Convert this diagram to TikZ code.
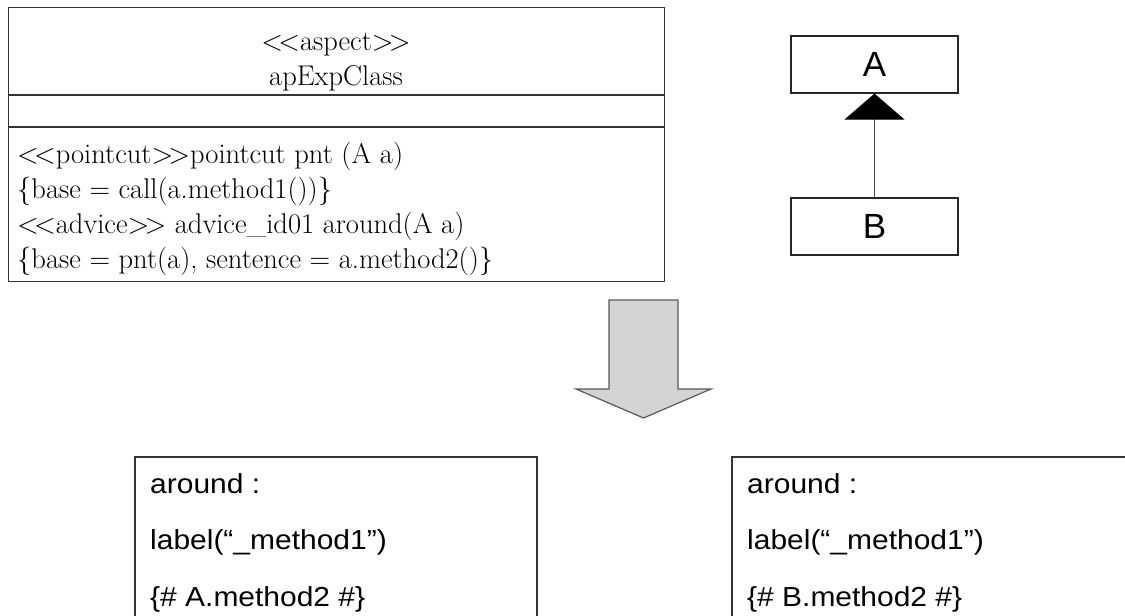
\RequirePackage{fix-cm}
\documentclass[tikz,border=0pt]{standalone}
\usepackage{fontspec}
\newfontfamily\arialish{Liberation Sans}
\newfontfamily\arialwide{Liberation Sans}[FakeStretch=1.09]
\usetikzlibrary{arrows.meta}
\newcommand\stlt{$<\!<$}
\newcommand\stgt{$>\!>$}
\begin{document}
\begin{tikzpicture}[x=1pt,y=-1pt,
  frame/.style={draw=black!80, line width=1.2pt},
  serifline/.style={font=\fontsize{28.5}{35}\selectfont, anchor=base west, inner sep=0pt},
  seriftitle/.style={font=\fontsize{28.5}{35}\selectfont, anchor=base, inner sep=0pt},
  sansline/.style={font=\arialwide\fontsize{27.5}{33}\selectfont, anchor=base west, inner sep=0pt},
  classbox/.style={draw=black!85, line width=1.2pt, minimum width=167pt, minimum height=57pt,
    font=\arialish\fontsize{35}{40}\selectfont, inner sep=0pt},
  inherit/.style={draw=black!70, line width=1.2pt,
    -{Triangle[width=60pt,length=26pt,color=black,fill=black]}},
  bigarrow/.style={fill=black!17, draw=black!65, line width=1.2pt, line join=miter}]
\useasboundingbox (0,0) rectangle (1125,616);

% aspect class with its three compartments
\node[frame, anchor=north west, minimum width=656pt, minimum height=274pt, inner sep=0pt] (cls) at (8,7) {};
\coordinate (d1) at (8,95);
\coordinate (d2) at (8,127);
\draw[frame] (d1) -- (d1 -| cls.east);
\draw[frame] (d2) -- (d2 -| cls.east);
\node[seriftitle] (stereo) at (336,50) {\stlt aspect\stgt};
\node[seriftitle] (cname) at (336,85) {apExpClass};
\node[serifline] (pc) at (17,163) {\stlt pointcut\stgt pointcut pnt (A a)};
\node[serifline] (pcbody) at (17,198) {\{base = call(a.method1())\}};
\node[serifline] (adv) at (17,233) {\stlt advice\stgt{} advice\_id01 around(A a)};
\node[serifline] (advbody) at (17,268) {\{base = pnt(a), sentence = a.method2()\}};

% generalisation B -> A
\node[classbox] (A) at (874.5,64.5) {A};
\node[classbox] (B) at (874.5,226.5) {B};
\draw[inherit] (B.north) -- (A.south);

% weaving arrow
\draw[bigarrow] (609,300) -- (678,300) -- (678,389) -- (711,389) -- (643.5,418)
  -- (576,389) -- (609,389) -- cycle;

% woven results
\begin{scope}
\clip (0,0) rectangle (1125,616);
\draw[frame] (135,457) rectangle (537,640);
\draw[frame] (732,457) rectangle (1140,640);
\end{scope}
\node[sansline] (ra1) at (150,493) {around :};
\node[sansline] (ra2) at (150,549) {label(“\_method1”)};
\node[sansline] (ra3) at (150,606) {\{\# A.method2 \#\}};
\node[sansline] (rb1) at (747,493) {around :};
\node[sansline] (rb2) at (747,549) {label(“\_method1”)};
\node[sansline] (rb3) at (747,606) {\{\# B.method2 \#\}};
\end{tikzpicture}
\end{document}
